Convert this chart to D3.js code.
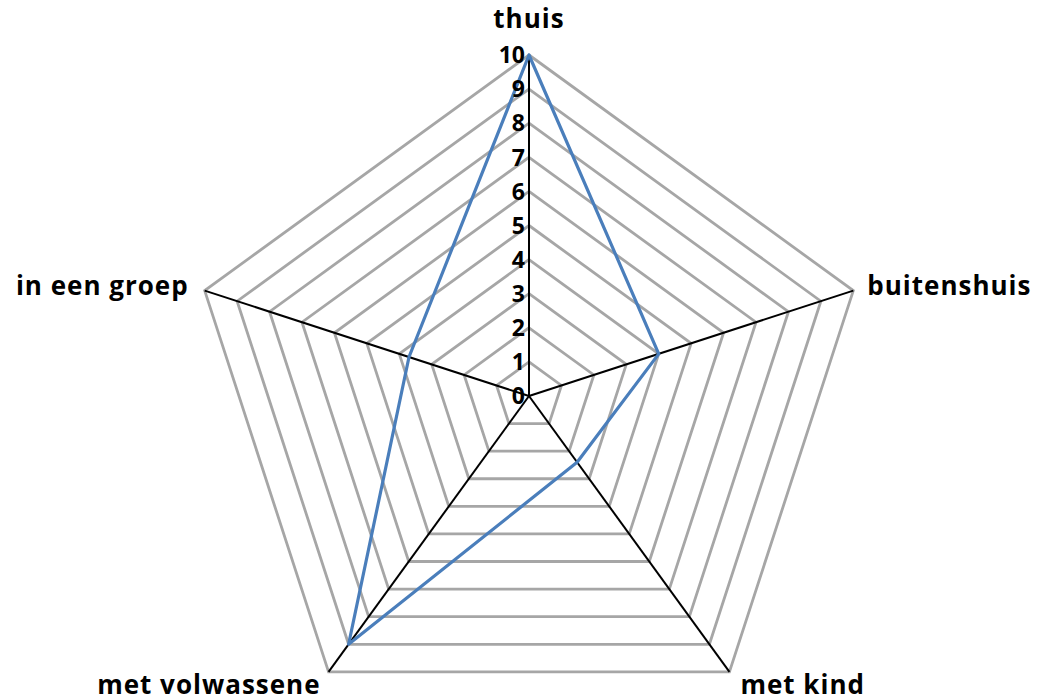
<!DOCTYPE html>
<html>
<head>
<meta charset="utf-8">
<script src="https://cdn.jsdelivr.net/npm/d3@7"></script>
<style>
  html, body { margin: 0; padding: 0; background: #fff; }
  svg { display: block; }
  text { font-family: 'Open Sans', sans-serif; font-weight: bold; fill: #000; }
</style>
</head>
<body>
<div id="chart"></div>
<script>
const width = 1048;
const height = 696;

// chart data
const categories = ['thuis', 'buitenshuis', 'met kind', 'met volwassene', 'in een groep'];
const values = [10, 4, 2.4, 9, 3.7];
const ticks = [0, 1, 2, 3, 4, 5, 6, 7, 8, 9, 10];

const cx = 529;
const cy = 396;

const svg = d3
  .select('#chart')
  .append('svg')
  .attr('width', width)
  .attr('height', height);

const r = d3.scaleLinear().domain([0, 10]).range([0, 341]);
const step = (2 * Math.PI) / categories.length;
const ang = (c) => categories.indexOf(c) * step;

const point = (c, v) => [cx + r(v) * Math.sin(ang(c)), cy - r(v) * Math.cos(ang(c))];

const g = svg.append('g');

// grid rings
g.append('g')
  .selectAll('polygon')
  .data(ticks.filter((t) => t > 0))
  .join('polygon')
  .attr('points', (t) => categories.map((c) => point(c, t).join(',')).join(' '))
  .attr('fill', 'none')
  .attr('stroke', '#a6a6a6')
  .attr('stroke-width', 2.8);

// axis spokes
g.append('g')
  .selectAll('line')
  .data(categories)
  .join('line')
  .attr('x1', cx)
  .attr('y1', cy)
  .attr('x2', (c) => point(c, 10)[0])
  .attr('y2', (c) => point(c, 10)[1])
  .attr('stroke', '#000')
  .attr('stroke-width', 2);

// series
const line = d3.line().curve(d3.curveLinearClosed);
g.append('path')
  .datum(categories.map((c, i) => point(c, values[i])))
  .attr('d', line)
  .attr('fill', 'none')
  .attr('stroke', '#4a7ebb')
  .attr('stroke-width', 3.2)
  .attr('stroke-linejoin', 'round');

// tick labels along the top axis
g.append('g')
  .selectAll('text')
  .data(ticks)
  .join('text')
  .attr('x', cx - 4)
  .attr('y', (t) => cy - r(t))
  .attr('dy', '0.36em')
  .attr('text-anchor', 'end')
  .attr('font-size', 23)
  .text((t) => t);

// category labels
const labelPos = {
  thuis: { dx: 0, dy: -36, anchor: 'middle' },
  buitenshuis: { dx: 14, dy: -5, anchor: 'start' },
  'met kind': { dx: 11, dy: 13, anchor: 'start' },
  'met volwassene': { dx: -8, dy: 13, anchor: 'end' },
  'in een groep': { dx: -16, dy: -5, anchor: 'end' },
};

g.append('g')
  .selectAll('text')
  .data(categories)
  .join('text')
  .attr('x', (c) => point(c, 10)[0] + labelPos[c].dx)
  .attr('y', (c) => point(c, 10)[1] + labelPos[c].dy)
  .attr('dy', '0.36em')
  .attr('text-anchor', (c) => labelPos[c].anchor)
  .attr('font-size', 26)
  .attr('letter-spacing', 1)
  .text((c) => c);
</script>
</body>
</html>
